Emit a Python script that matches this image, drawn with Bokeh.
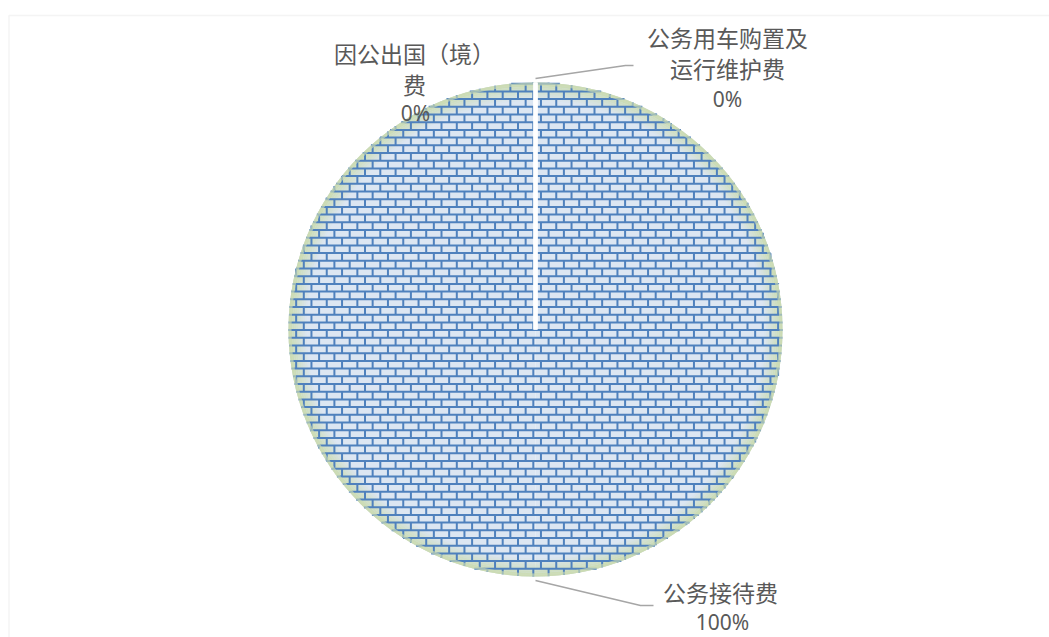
import numpy as np
from bokeh.plotting import figure
from bokeh.models import Range1d, BoxAnnotation
from bokeh.core.properties import value
from bokeh.embed import file_html
from bokeh.resources import INLINE

# ---- data ----
categories = ["因公出国（境）费", "公务用车购置及运行维护费", "公务接待费"]
label_lines = ["因公出国（境）\n费", "公务用车购置及\n运行维护费", "公务接待费"]
values = [0.0, 0.0, 100.0]
pct_labels = ["0%", "0%", "100%"]

# ---- layout ----
W, H = 1049, 637
cx, cy, R = 535, 308, 247
FONT = "Noto Sans CJK SC"
TXT = "#595959"

p = figure(width=W, height=H, output_backend="svg", toolbar_location=None,
           x_range=Range1d(0, W), y_range=Range1d(0, H), min_border=0)
p.axis.visible = False
p.grid.visible = False
p.outline_line_color = None
p.background_fill_color = "white"
p.border_fill_color = "white"

# chart-area border (top and left visible)
p.add_layout(BoxAnnotation(left=8.5, right=W + 50, top=H - 15, bottom=-50,
                           fill_alpha=0, line_color="#d9d9d9", line_width=1.5))

# ---- pie slices ----
vals = np.array(values)
frac = vals / vals.sum()
cum = np.concatenate([[0], np.cumsum(frac)])
start_ang = np.pi / 2 - 2 * np.pi * cum[:-1]
end_ang = np.pi / 2 - 2 * np.pi * cum[1:]

for s, e in zip(start_ang, end_ang):
    if s - e <= 0:
        continue
    n = int(np.ceil((s - e) / np.pi))
    edges = np.linspace(s, e, n + 1)
    for a0, a1 in zip(edges[:-1], edges[1:]):
        p.wedge(x=cx, y=cy, radius=R, start_angle=a0, end_angle=a1,
                direction="clock", fill_color="#dce6f2", line_color=None)

# soft green gradient towards the edge (under the brick lines)
nring = 9
for i in range(nring):
    r_in = R - 18 + i * 2
    p.annulus(x=cx, y=cy, inner_radius=r_in, outer_radius=r_in + 2,
              fill_color="#c9dbaf", fill_alpha=0.08 + 0.11 * i, line_color=None)

# brick pattern fill (clipped to the disc)
bh, bw = 7.7, 15.3
hx0, hx1, hy = [], [], []
vx, vy0, vy1 = [], [], []
ys = np.arange(cy - R, cy + R + 0.01, bh)
for k, y in enumerate(ys):
    d = y - cy
    if abs(d) < R:
        hc = np.sqrt(R * R - d * d)
        hx0.append(cx - hc); hx1.append(cx + hc); hy.append(y)
    off = (k % 2) * bw / 2
    for x in np.arange(cx - R + off, cx + R, bw):
        dx = x - cx
        if abs(dx) >= R:
            continue
        yl = np.sqrt(R * R - dx * dx)
        a = max(y, cy - yl); b = min(y + bh, cy + yl)
        if b > a:
            vx.append(x); vy0.append(a); vy1.append(b)
p.segment(x0=hx0, y0=hy, x1=hx1, y1=hy, line_color="#4f81bd", line_width=2)
p.segment(x0=vx, y0=vy0, x1=vx, y1=vy1, line_color="#4f81bd", line_width=2)

# thin pale rim on top
p.annulus(x=cx, y=cy, inner_radius=R - 3, outer_radius=R,
          fill_color="#cddcb6", fill_alpha=0.65, line_color=None)

# slice separators (white lines) at slice boundaries
for s in start_ang:
    p.ray(x=cx, y=cy, length=R, angle=s, line_color="white", line_width=4)

# ---- labels ----
name_x = [414, 727, 720]
name_y = [H - 68, H - 52, H - 591]
pct_x = [415, 727, 722]
pct_y = [H - 112, H - 98, H - 621]
p.text(x=name_x, y=name_y, text=label_lines, text_font=value(FONT),
       text_font_size="23px", text_color=TXT, text_align="center",
       text_baseline="middle", text_line_height=0.91)
p.text(x=pct_x, y=pct_y, text=pct_labels, text_font=value("Noto Sans"),
       text_font_size="21px", text_color=TXT, text_align="center",
       text_baseline="middle")

# leader lines for labels 2 and 3
mid = (start_ang + end_ang) / 2
lx, ly = [], []
ends = {1: (625, H - 65, 633), 2: (640, H - 605, 653)}
for i, (ex, ey, hx) in ends.items():
    sx = cx + (R + 4) * np.cos(mid[i]); sy = cy + (R + 4) * np.sin(mid[i])
    lx.append([sx, ex, hx]); ly.append([sy, ey, ey])
p.multi_line(xs=lx, ys=ly, line_color="#a6a6a6", line_width=1.5)

open("out.html", "w").write(file_html(p, INLINE))
